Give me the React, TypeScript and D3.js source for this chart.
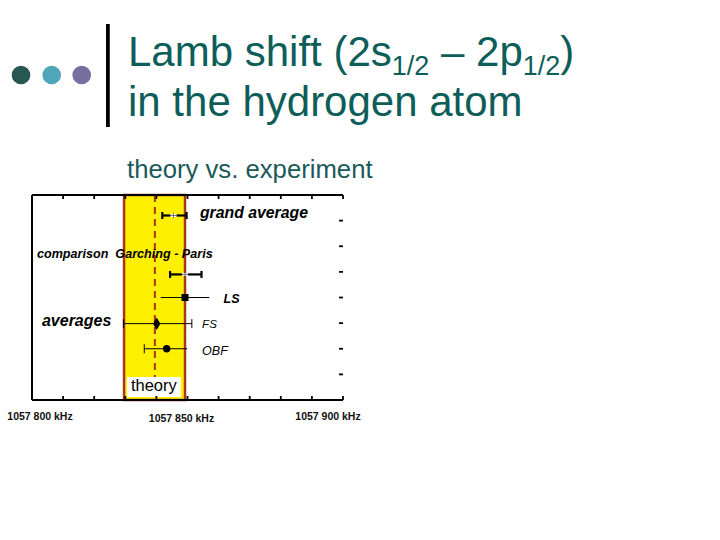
import React from "react";
import * as d3 from "d3";

// ---- data (kHz, rows) ----
const xDomain: [number, number] = [1057800, 1057900];
const xTickValues = d3.range(1057800, 1057900.1, 10);
const xTickLabels = [
  { value: 1057800, text: "1057 800 kHz" },
  { value: 1057850, text: "1057 850 kHz" },
  { value: 1057900, text: "1057 900 kHz" },
];
const rowDomain: [number, number] = [0, 8];
const rowTicks = [1, 2, 3, 4, 5, 6, 7];

const theoryLow = 1057829.6;
const theoryHigh = 1057849.2;
const theoryValue = 1057839.5;

const measurementNames = ["grand average", "comparison", "LS", "FS", "OBF"];
const measurementRows = [0.8, 3.1, 4.0, 5.02, 6.0];
const measurementValues = [1057845.5, 1057849.2, 1057849.2, 1057840.1, 1057843.3];
const measurementLow = [1057841.9, 1057844.4, 1057841.4, 1057829.4, 1057836.1];
const measurementHigh = [1057849.7, 1057854.5, 1057857.0, 1057851.4, 1057849.9];
const measurementMarker = ["cross", "cross", "square", "diamond", "circle"];

const annotationTexts = ["grand average", "comparison  Garching - Paris", "LS", "averages", "FS", "OBF"];
const annotationX = [1057854.0, 1057801.6, 1057861.6, 1057803.2, 1057854.7, 1057854.7];
const annotationRow = [0.9, 2.45, 4.2, 5.13, 5.2, 6.24];

export default function App() {
  const x = d3.scaleLinear().domain(xDomain).range([32, 343]);
  const y = d3.scaleLinear().domain(rowDomain).range([195, 400]);
  const [x0, x1] = x.range();
  const [y0, y1] = y.range();

  const annStyle = [
    { size: 15.8, weight: 700, italic: true },
    { size: 12.6, weight: 700, italic: true },
    { size: 12.5, weight: 700, italic: true },
    { size: 16, weight: 700, italic: true },
    { size: 11.5, weight: 400, italic: true },
    { size: 12.5, weight: 400, italic: true },
  ];
  const labelNudge = [
    { dx: 8, dy: 20 },
    { dx: -6, dy: 22 },
    { dx: -15, dy: 20 },
  ];

  const brown = "#a8361a";
  const titleColor = "#0d5e59";

  return (
    <svg
      width={720}
      height={540}
      style={{ position: "absolute", left: 0, top: 0, background: "#fff" }}
      fontFamily="Liberation Sans, Arial, sans-serif"
    >
      {/* slide header */}
      <circle cx={21} cy={75} r={9.3} fill="#285650" />
      <circle cx={51.7} cy={75} r={9.3} fill="#4ea6b8" />
      <circle cx={81.7} cy={75} r={9.3} fill="#786f9e" />
      <rect x={106} y={24} width={3.8} height={103} fill="#000" />
      <text x={128} y={66} fontSize={42} fill={titleColor} style={{ whiteSpace: "pre" }}>
        <tspan>{"Lamb shift (2s"}</tspan>
        <tspan fontSize={27} dy={9}>{"1/2"}</tspan>
        <tspan dy={-9}>{" – 2p"}</tspan>
        <tspan fontSize={27} dy={9}>{"1/2"}</tspan>
        <tspan dy={-9}>{")"}</tspan>
      </text>
      <text x={128} y={116} fontSize={42} fill={titleColor}>
        in the hydrogen atom
      </text>
      <text x={127} y={178} fontSize={25.7} fill="#1a5a5a">
        theory vs. experiment
      </text>

      {/* theory band */}
      <rect
        x={x(theoryLow)}
        y={y0}
        width={x(theoryHigh) - x(theoryLow)}
        height={y1 - y0}
        fill="#fff000"
        stroke={brown}
        strokeWidth={2.5}
      />
      <line
        x1={x(theoryValue)}
        x2={x(theoryValue)}
        y1={y0}
        y2={y1}
        stroke={brown}
        strokeWidth={2}
        strokeDasharray="7,5"
      />
      <rect
        x={x(theoryValue) - 28}
        y={y1 - 23}
        width={54}
        height={20}
        fill="#fff"
      />
      <text
        x={x(theoryValue) - 1}
        y={y1 - 9}
        fontSize={16.5}
        fontWeight={400}
        textAnchor="middle"
        fill="#000"
      >
        theory
      </text>

      {/* frame */}
      <line x1={x0} x2={x1} y1={y0} y2={y0} stroke="#000" strokeWidth={2} />
      <line x1={x0} x2={x1} y1={y1} y2={y1} stroke="#000" strokeWidth={2.2} />
      <line x1={x0} x2={x0} y1={y0} y2={y1} stroke="#000" strokeWidth={2} />
      {xTickValues.map((v, i) => (
        <g key={"xt" + i}>
          <line x1={x(v)} x2={x(v)} y1={y1} y2={y1 - 4} stroke="#000" strokeWidth={1.8} />
          <line x1={x(v)} x2={x(v)} y1={y0} y2={y0 + 4} stroke="#000" strokeWidth={1.8} />
        </g>
      ))}
      {rowTicks.map((r, i) => (
        <line key={"yt" + i} x1={x1} x2={x1 - 4} y1={y(r)} y2={y(r)} stroke="#000" strokeWidth={1.8} />
      ))}
      {xTickLabels.map((t, i) => (
        <text
          key={"xl" + i}
          x={x(t.value) + labelNudge[i].dx}
          y={y1 + labelNudge[i].dy}
          fontSize={10.5}
          fontWeight={700}
          textAnchor="middle"
          fill="#111"
        >
          {t.text}
        </text>
      ))}

      {/* measurements */}
      {measurementNames.map((name, i) => {
        const cy = y(measurementRows[i]);
        const lo = x(measurementLow[i]);
        const hi = x(measurementHigh[i]);
        const cx = x(measurementValues[i]);
        const marker = measurementMarker[i];
        const thick = marker === "cross";
        const sw = thick ? 2.2 : 1;
        const capH = thick ? 3.5 : 4.5;
        const leftCap = marker !== "square";
        const rightCap = marker === "cross" || marker === "diamond";
        return (
          <g key={name}>
            <line x1={lo} x2={hi} y1={cy} y2={cy} stroke="#000" strokeWidth={sw} />
            {leftCap && <line x1={lo} x2={lo} y1={cy - capH} y2={cy + capH} stroke="#000" strokeWidth={sw} />}
            {rightCap && <line x1={hi} x2={hi} y1={cy - capH} y2={cy + capH} stroke="#000" strokeWidth={sw} />}
            {marker === "cross" && (
              <g>
                <rect x={cx - 3} y={cy - 1.5} width={6} height={3} fill="#fff" />
                <line x1={cx - 3} x2={cx + 3} y1={cy} y2={cy} stroke="#555" strokeWidth={0.8} />
                <line x1={cx} x2={cx} y1={cy - 2.5} y2={cy + 2.5} stroke="#555" strokeWidth={0.8} />
              </g>
            )}
            {marker === "square" && <rect x={cx - 3.5} y={cy - 3.5} width={7} height={7} fill="#000" />}
            {marker === "diamond" && (
              <path
                d={d3.symbol(d3.symbolDiamond, 45)() || ""}
                transform={`translate(${cx},${cy})`}
                fill="#000"
              />
            )}
            {marker === "circle" && <circle cx={cx} cy={cy} r={3.7} fill="#000" />}
          </g>
        );
      })}

      {/* annotations */}
      {annotationTexts.map((t, i) => (
        <text
          key={"an" + i}
          x={x(annotationX[i])}
          y={y(annotationRow[i])}
          fontSize={annStyle[i].size}
          fontWeight={annStyle[i].weight}
          fontStyle={annStyle[i].italic ? "italic" : "normal"}
          fill="#000"
          style={{ whiteSpace: "pre" }}
        >
          {t}
        </text>
      ))}
    </svg>
  );
}
